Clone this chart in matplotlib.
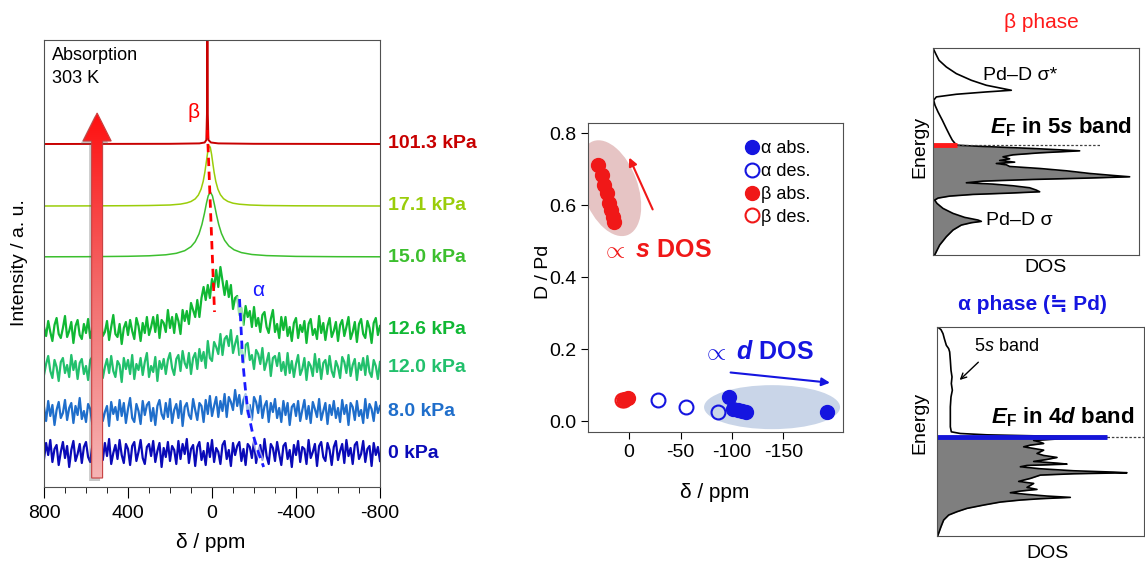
import numpy as np
import matplotlib
matplotlib.use("Agg")
import matplotlib.pyplot as plt
from matplotlib.patches import Polygon, Ellipse
from matplotlib.lines import Line2D
from matplotlib.colors import LinearSegmentedColormap
from matplotlib.transforms import ScaledTranslation, blended_transform_factory

plt.rcParams['font.family'] = ['Liberation Sans', 'DejaVu Sans']
plt.rcParams['axes.unicode_minus'] = False
plt.rcParams['mathtext.fontset'] = 'custom'
plt.rcParams['mathtext.rm'] = 'Liberation Sans'
plt.rcParams['mathtext.it'] = 'Liberation Sans:italic'
plt.rcParams['mathtext.bf'] = 'Liberation Sans:bold'
plt.rcParams['mathtext.bfit'] = 'Liberation Sans:italic:bold'

# ---------------- spectra (left panel) ----------------
# noisy traces sampled every 10 ppm from 800 to -800
ppm_grid = np.arange(800, -801, -10)

sp_126 = [3,-6,9,-2,-11,5,12,-4,-8,2,14,-7,-1,8,-13,4,10,-5,-9,6,
          -3,11,-8,1,7,-12,5,13,-6,-2,9,-10,3,15,-4,-7,6,-14,2,8,
          -5,10,-1,-9,12,4,-11,7,-3,13,-5,3,13,-2,15,-8,10,7,-2,20,
          2,13,-3,16,9,-4,20,9,19,6,27,20,13,30,13,32,43,30,45,32,
          51,42,60,43,63,49,35,49,33,45,21,32,34,15,22,5,24,13,19,3,
          23,4,12,-2,15,18,3,-3,11,20,-2,6,-8,13,0,13,-6,3,-11,7,
          12,-8,5,-2,9,-13,6,11,-5,1,-9,14,-3,7,-10,4,12,-7,-1,8,
          -11,5,10,-6,3,13,-9,-2,8,-12,6,11,-4,-8,9,2,-13,7,12,-5,4]

sp_120 = [-7,4,12,-3,-10,8,1,-13,6,10,-5,3,-9,13,-2,7,-11,5,9,-6,
          2,-12,8,11,-4,-8,6,14,-10,1,9,-5,12,-3,-9,7,3,-14,10,-1,
          8,-6,13,-11,4,-2,10,-7,6,15,-9,2,-4,11,-13,7,-1,9,-6,8,
          15,0,-7,9,13,-3,17,5,0,15,-6,10,15,-1,19,7,16,0,27,10,
          7,26,21,14,34,13,29,32,22,38,15,24,32,13,22,5,23,25,8,13,
          -1,18,14,4,20,-2,6,15,-8,10,12,2,15,-3,6,-7,15,-5,7,-9,
          4,13,-7,-1,10,-12,6,2,-8,14,-4,9,-11,5,8,-6,12,-3,-9,7,
          1,-10,11,6,-5,13,-8,3,9,-12,5,-2,10,-7,12,-4,-9,8,2,-11,6]

sp_080 = [5,-9,11,-4,7,-13,2,10,-6,-1,12,-8,4,9,-11,6,-3,14,-7,1,
          -10,8,3,-12,11,-5,7,13,-9,0,6,-14,10,-2,5,-8,12,-4,9,-11,
          3,14,-6,-10,8,1,-12,11,-3,7,10,-9,4,-13,6,12,-2,-7,9,-5,
          13,-11,2,8,-6,11,-14,5,9,-3,-7,13,2,-8,9,6,-10,12,-2,16,
          -4,6,15,-5,11,1,18,-5,15,10,2,22,6,17,-2,12,18,-2,7,-8,
          15,10,-1,16,-6,6,11,-10,9,0,13,-6,4,-10,11,-3,9,-13,5,8,
          -4,11,-9,2,12,-7,6,-11,10,3,-5,13,-8,1,9,-12,7,-3,11,-6,
          4,-10,12,-2,7,-13,9,5,-8,11,-4,2,-11,13,-6,8,3,-9,10,-1,6]

sp_000 = [-6,10,-2,13,-9,4,8,-12,1,11,-5,7,-14,3,12,-8,-1,9,-10,6,
          11,-4,-9,7,2,-13,12,5,-7,10,-3,14,-11,0,8,-6,13,-2,-10,9,
          4,-12,7,11,-8,1,13,-5,-11,6,9,-3,12,-9,2,10,-14,5,-4,11,
          -8,7,3,-11,12,-6,9,-1,14,-10,4,8,-13,6,11,-7,2,-12,10,-4,
          13,-9,5,1,-11,8,12,-6,3,-13,10,-2,7,11,-8,4,-12,9,6,-5,
          12,-10,2,8,-7,14,-3,-11,9,5,-8,11,-1,-12,7,10,-6,3,-14,8,
          -2,12,-9,6,4,-11,13,-5,1,9,-13,7,11,-4,-8,10,3,-12,6,12,
          -7,2,9,-10,13,-3,5,-11,8,11,-6,-1,12,-9,4,7,-13,10,-2,6,-8]

# smooth traces
ppm_171 = [800, 600, 400, 300, 200, 150, 120, 100, 80, 65, 52, 42, 34, 27, 21, 16, 12,
           8, 2, -4, -10, -18, -28, -40, -55, -75, -100, -130, -180, -250, -400, -600, -800]
sp_171 = [0, 0.1, 0.3, 0.5, 1.0, 1.9, 3.1, 4.5, 7.1, 10.9, 16.9, 24.6, 33.8, 44.1, 53.1, 58.5, 60,
          58.5, 51.7, 42.6, 33.8, 24.6, 16.9, 11.3, 7.3, 4.6, 2.8, 1.8, 1.0, 0.5, 0.2, 0.1, 0]

ppm_150 = [800, 600, 400, 300, 220, 170, 130, 100, 80, 62, 48, 36, 26, 18, 8, -2, -12,
           -22, -32, -45, -60, -80, -105, -140, -190, -260, -400, -600, -800]
sp_150 = [0.2, 0.3, 0.7, 1.2, 2.2, 3.7, 6.3, 10.3, 15.3, 23.0, 32.5, 43.6, 54.2, 61.2, 65, 61.2, 52,
          41.6, 32.5, 23.6, 16.7, 11.1, 7.2, 4.4, 2.5, 1.4, 0.6, 0.3, 0.2]

ppm_1013 = [800, 200, 60, 35, 27, 24, 23, 22, 21, 20, 17, 5, -30, -200, -800]
sp_1013 = [0, 0.2, 0.6, 1.5, 4, 30, 200, 400, 200, 30, 4, 1.5, 0.6, 0.2, 0]

labels = ['101.3 kPa', '17.1 kPa', '15.0 kPa', '12.6 kPa', '12.0 kPa', '8.0 kPa', '0 kPa']
offsets = [343, 281, 230, 157, 119, 75, 34]
colors = ['#c80000', '#9acd0a', '#3cbf2e', '#10b834', '#22c06c', '#1f6ecb', '#0a0ab8']
widths = [1.4, 1.1, 1.1, 1.6, 1.6, 1.6, 1.6]

beta_dash_x = [22, -12]
beta_dash_y = [357, 175]
alpha_dash_x = [-131, -138, -146, -158, -170, -193, -222, -246]
alpha_dash_y = [188, 160, 127, 100, 77, 54, 34, 20]

# ---------------- D/Pd vs shift (middle panel) ----------------
a_abs_x = [-97, -101, -106, -110, -114, -192]
a_abs_y = [0.068, 0.035, 0.031, 0.028, 0.025, 0.025]
a_des_x = [-28, -55, -86]
a_des_y = [0.058, 0.039, 0.025]
b_abs_x = [30, 26.5, 24, 21.7, 19.1, 17.5, 15.8, 14.6, 3.9, 1.3]
b_abs_y = [0.711, 0.683, 0.656, 0.633, 0.605, 0.586, 0.567, 0.554, 0.062, 0.065]
b_des_x = [7, 5]
b_des_y = [0.060, 0.058]

# ---------------- DOS (right panels) ----------------
beta_E = [622, 605, 585, 565, 545, 525, 510, 500, 495, 490, 483, 475, 465, 450, 430, 405, 380, 360,
          345, 333, 330, 327, 320, 313, 307, 301, 295, 289, 284, 279, 275, 271, 266, 260, 253, 245,
          239, 235, 231, 227, 222, 217, 213, 208, 202, 195, 190, 186, 182, 177, 171, 165, 155, 140,
          125, 113, 105, 101, 97, 90, 75, 55, 30, 0]
beta_D = [0, 8, 18, 40, 70, 115, 160, 210, 235, 160, 70, 10, 2, 6, 15, 28, 40, 50,
          58, 68, 72, 130, 300, 440, 320, 240, 210, 230, 200, 245, 190, 220, 230, 320, 400, 470,
          540, 590, 460, 300, 150, 100, 180, 240, 290, 310, 320, 230, 120, 50, 15, 5, 12, 30,
          60, 95, 135, 145, 115, 85, 60, 40, 20, 5]
beta_EF = 330

alpha_E = [628, 620, 608, 593, 573, 563, 553, 528, 498, 478, 458, 438, 418, 388, 358, 328, 313, 308,
           304, 301, 298, 296, 292, 287, 282, 278, 273, 268, 263, 258, 253, 248, 242, 236, 230, 224,
           219, 216, 212, 208, 202, 196, 192, 190, 187, 183, 178, 173, 168, 164, 158, 152, 146, 140,
           135, 130, 125, 120, 116, 112, 108, 102, 93, 83, 73, 63, 48, 28, 0]
alpha_D = [2, 12, 18, 22, 28, 35, 38, 40, 42, 45, 43, 46, 42, 40, 40, 40, 43, 70,
           150, 290, 450, 510, 370, 290, 310, 320, 280, 260, 290, 320, 310, 300, 320, 360, 330, 290,
           360, 390, 270, 250, 310, 410, 530, 570, 410, 310, 295, 280, 260, 245, 290, 280, 270, 300,
           250, 220, 270, 330, 400, 310, 250, 190, 140, 90, 60, 35, 20, 12, 2]
alpha_EF = 296

W, H = 1145, 561
fig = plt.figure(figsize=(W / 100, H / 100), dpi=100)


def rect(l, t, r, b):
    return [l / W, 1 - b / H, (r - l) / W, (b - t) / H]


def ftext(x, y, s, **kw):
    fig.text(x / W, 1 - y / H, s, ha='center', va='center', **kw)


# ======== left panel ========
ax1 = fig.add_axes(rect(44, 40, 380, 487))
traces = [(ppm_1013, sp_1013), (ppm_171, sp_171), (ppm_150, sp_150),
          (ppm_grid, sp_126), (ppm_grid, sp_120), (ppm_grid, sp_080), (ppm_grid, sp_000)]
lab_tr = blended_transform_factory(ax1.transAxes, ax1.transData)
for (x, y), off, c, lab, lw in zip(traces, offsets, colors, labels, widths):
    ax1.plot(x, np.array(y) + off, color=c, lw=lw)
    ax1.text(1.025, off, lab, transform=lab_tr, color=c, fontsize=14,
             fontweight='bold', va='center', ha='left', clip_on=False)

ax1.plot(beta_dash_x, beta_dash_y, color='red', ls=(0, (3, 2)), lw=2, zorder=4)
ax1.plot(alpha_dash_x, alpha_dash_y, color='white', lw=4, alpha=0.6, zorder=4)
ax1.plot(alpha_dash_x, alpha_dash_y, color='#1a1aff', ls=(0, (3, 2)), lw=2, zorder=4)
ax1.text(88, 374, 'β', color='red', fontsize=15, ha='center', va='center')
ax1.text(-222, 196, 'α', color='#1a1aff', fontsize=15, ha='center', va='center')

# big gradient arrow
cx, sh, hh = 547, 26, 67
arr = [(cx - sh, 9), (cx + sh, 9), (cx + sh, 346), (cx + hh, 346), (cx, 374),
       (cx - hh, 346), (cx - sh, 346)]
shadow = Polygon([(x + 12, y - 3) for x, y in arr], closed=True, fc='#606060',
                 ec='none', alpha=0.35, zorder=5)
ax1.add_patch(shadow)
arr_patch = Polygon(arr, closed=True, fc='none', ec='#c84040', lw=0.8, zorder=7)
ax1.add_patch(arr_patch)
grad_cmap = LinearSegmentedColormap.from_list('g', ['#f6b4b4', '#f26e6e', '#ff1010'])
im = ax1.imshow(np.linspace(0, 1, 256).reshape(-1, 1), cmap=grad_cmap, origin='lower',
                extent=[cx - hh, cx + hh, 9, 374], aspect='auto', zorder=6)
im.set_clip_path(arr_patch)

ax1.set_xlim(800, -800)
ax1.set_ylim(0, 447)
ax1.set_yticks([])
ax1.set_xticks([800, 400, 0, -400, -800])
ax1.set_xticks(np.arange(700, -800, -100), minor=True)
ax1.tick_params(axis='x', which='major', direction='out', length=8, labelsize=14, pad=5)
ax1.tick_params(axis='x', which='minor', direction='out', length=4)
for s in ax1.spines.values():
    s.set_color('#505050')
ax1.text(0.025, 0.985, 'Absorption\n303 K', transform=ax1.transAxes, fontsize=13,
         va='top', ha='left', linespacing=1.45)
ftext(20, 263, 'Intensity / a. u.', fontsize=14, rotation=90)
ftext(211, 543, 'δ / ppm', fontsize=15)

# ======== middle panel ========
ax2 = fig.add_axes(rect(588, 123, 843, 432))
ax2.set_xlim(40, -208)
ax2.set_ylim(-0.03, 0.828)

def ell(ax, x, y, w, h, ang, c):
    tr = fig.dpi_scale_trans + ScaledTranslation(x, y, ax.transData)
    ax.add_patch(Ellipse((0, 0), w, h, angle=ang, transform=tr, fc=c, ec='none', zorder=1))

ell(ax2, 18.4, 0.647, 1.0, 0.55, 110, '#e6c4c4')
ell(ax2, -139, 0.039, 1.36, 0.44, 0, '#c9d5e8')

ms = 10
ax2.plot(b_abs_x, b_abs_y, 'o', ms=ms, color='#f01818', mec='#f01818', zorder=3)
ax2.plot(b_des_x, b_des_y, 'o', ms=ms, mfc='none', mec='#f01818', mew=1.5, zorder=3)
ax2.plot(a_abs_x, a_abs_y, 'o', ms=ms, color='#1515e0', zorder=3)
ax2.plot(a_des_x, a_des_y, 'o', ms=ms, mfc='none', mec='#1515e0', mew=1.5, zorder=3)

ax2.annotate('', xy=(1, 0.739), xytext=(-24, 0.581),
             arrowprops=dict(arrowstyle='-|>', color='#f01818', lw=1.5, mutation_scale=12))
ax2.annotate('', xy=(-198, 0.106), xytext=(-96, 0.136),
             arrowprops=dict(arrowstyle='-|>', color='#1515e0', lw=1.5, mutation_scale=12))
ax2.text(27, 0.475, '$\\propto$ $\\mathbfit{s}$ DOS', color='#f01818', fontsize=18,
         fontweight='bold', ha='left', va='center')
ax2.text(-71, 0.192, '$\\propto$ $\\mathbfit{d}$ DOS', color='#1515e0', fontsize=18,
         fontweight='bold', ha='left', va='center')

handles = [Line2D([], [], ls='none', marker='o', ms=ms, color='#1515e0'),
           Line2D([], [], ls='none', marker='o', ms=ms, mfc='none', mec='#1515e0', mew=1.5),
           Line2D([], [], ls='none', marker='o', ms=ms, color='#f01818'),
           Line2D([], [], ls='none', marker='o', ms=ms, mfc='none', mec='#f01818', mew=1.5)]
ax2.legend(handles, ['α abs.', 'α des.', 'β abs.', 'β des.'], loc='upper left',
           bbox_to_anchor=(0.56, 0.985), frameon=False, fontsize=13, handlelength=0.9,
           handletextpad=0.1, labelspacing=0.32, borderpad=0.2)

ax2.set_xticks([0, -50, -100, -150])
ax2.set_yticks([0, 0.2, 0.4, 0.6, 0.8])
ax2.set_yticklabels(['0.0', '0.2', '0.4', '0.6', '0.8'])
ax2.tick_params(direction='out', length=5, labelsize=14)
for s in ax2.spines.values():
    s.set_color('#505050')
ftext(543, 272, 'D / Pd', fontsize=14, rotation=90)
ftext(715, 492, 'δ / ppm', fontsize=15)

# ======== right panels ========
def dos_panel(r, E, D, EF, efc, dash_end, xmax, ymax):
    ax = fig.add_axes(r)
    E = np.array(E)
    D = np.array(D)
    m = E <= EF
    ax.fill_betweenx(E[m], 0, D[m], color='#7f7f7f', lw=0)
    ax.plot(D, E, color='black', lw=1.2)
    ax.plot([D[E == EF][0], dash_end], [EF, EF], color='#404040', ls=(0, (2, 1.5)), lw=0.9)
    ax.plot([0, D[E == EF][0]], [EF, EF], color=efc, lw=3.5, solid_capstyle='butt')
    ax.set_xlim(0, xmax)
    ax.set_ylim(0, ymax)
    ax.set_xticks([])
    ax.set_yticks([])
    for s in ax.spines.values():
        s.set_color('#505050')
    return ax

ax3 = dos_panel(rect(933, 48, 1139, 255), beta_E, beta_D, beta_EF, '#ff1a1a', 500, 618, 622)
ax3.text(150, 540, 'Pd–D σ*', fontsize=14, va='center', ha='left')
ax3.text(158, 105, 'Pd–D σ', fontsize=14, va='center', ha='left')
ax3.text(172, 383, '$\\mathbfit{E}_\\mathbf{F}$ in 5$\\mathbfit{s}$ band', fontsize=16,
         fontweight='bold', va='center', ha='left')
ftext(1041, 23, 'β phase', fontsize=15, color='#ff1a1a')
ftext(920, 147, 'Energy', fontsize=14, rotation=90)
ftext(1046, 267, 'DOS', fontsize=14)

ax4 = dos_panel(rect(937, 327, 1144, 536), alpha_E, alpha_D, alpha_EF, '#1515d8', 700, 621, 628)
ax4.text(112, 568, '$\\mathit{5s}$ band', fontsize=13, va='center', ha='left')
ax4.annotate('', xy=(62, 463), xytext=(130, 528),
             arrowprops=dict(arrowstyle='->', color='black', lw=1.0))
ax4.text(162, 358, '$\\mathbfit{E}_\\mathbf{F}$ in 4$\\mathbfit{d}$ band', fontsize=16,
         fontweight='bold', va='center', ha='left')
ftext(1032, 305, 'α phase (≒ Pd)', fontsize=15, color='#1515e0', fontweight='bold')
ftext(920, 423, 'Energy', fontsize=14, rotation=90)
ftext(1048, 553, 'DOS', fontsize=14)

fig.savefig('out.png', dpi=100)
